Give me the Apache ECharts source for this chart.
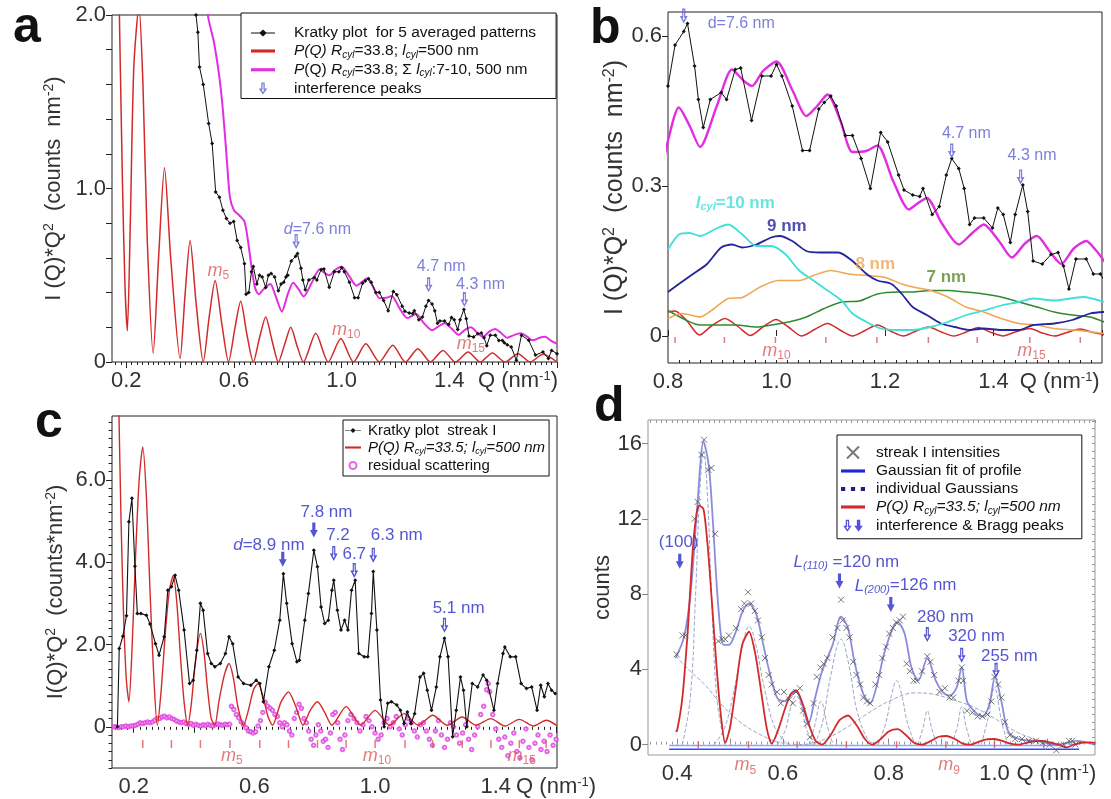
<!DOCTYPE html>
<html>
<head>
<meta charset="utf-8">
<script src="https://cdn.jsdelivr.net/npm/echarts@6/dist/echarts.min.js"></script>
<style>
  html, body { margin: 0; padding: 0; background: #fff; }
  #chart { width: 1111px; height: 799px; }
</style>
</head>
<body>
<div id="chart"></div>
<script>
// ---------- panel a + b: Kratky plot of 5 averaged patterns (Q nm^-1, I*Q^2)
const kratkyAvg = [
  [0.455, 2.3], [0.459, 2.0], [0.466, 1.9], [0.472, 1.7], [0.486, 1.6], [0.506, 1.375], [0.519, 1.26],
  [0.532, 0.98], [0.546, 0.95], [0.559, 0.875], [0.572, 0.827], [0.585, 0.8], [0.599, 0.81], [0.612, 0.7],
  [0.625, 0.66], [0.639, 0.567], [0.645, 0.39], [0.655, 0.4], [0.665, 0.52], [0.672, 0.55], [0.685, 0.45],
  [0.695, 0.5], [0.705, 0.49], [0.718, 0.43], [0.728, 0.5], [0.738, 0.51], [0.751, 0.49], [0.765, 0.41],
  [0.775, 0.45], [0.785, 0.46], [0.793, 0.49],
  [0.8, 0.5], [0.813, 0.582], [0.829, 0.609], [0.836, 0.625], [0.849, 0.54], [0.856, 0.473], [0.865, 0.417],
  [0.878, 0.473], [0.898, 0.487], [0.908, 0.473], [0.924, 0.533], [0.934, 0.536], [0.954, 0.431], [0.973, 0.52],
  [0.99, 0.52], [1.0, 0.543], [1.01, 0.52], [1.029, 0.46], [1.048, 0.371], [1.061, 0.371], [1.078, 0.454],
  [1.088, 0.467], [1.1, 0.48], [1.11, 0.46], [1.127, 0.401], [1.14, 0.401], [1.156, 0.355], [1.173, 0.295],
  [1.192, 0.407], [1.205, 0.388], [1.225, 0.322], [1.235, 0.292], [1.251, 0.282], [1.264, 0.279], [1.27, 0.295],
  [1.287, 0.243], [1.3, 0.259], [1.313, 0.322], [1.323, 0.355], [1.336, 0.335], [1.346, 0.295], [1.356, 0.223],
  [1.365, 0.236], [1.382, 0.236], [1.398, 0.216], [1.408, 0.256], [1.418, 0.243], [1.431, 0.187], [1.44, 0.243],
  [1.454, 0.302], [1.463, 0.249], [1.473, 0.15], [1.49, 0.144], [1.506, 0.163], [1.519, 0.167], [1.529, 0.14],
  [1.539, 0.094], [1.552, 0.154], [1.571, 0.154], [1.584, 0.124], [1.597, 0.124], [1.604, 0.111],
  [1.615, 0.1], [1.63, 0.087], [1.649, 0.01], [1.668, 0.154], [1.695, 0.125], [1.72, 0.04], [1.748, 0.058],
  [1.768, 0.02], [1.78, 0.067], [1.8, 0.048]
];
const sumLengths = [
  [0.49, 2.3], [0.503, 2.0], [0.526, 1.84], [0.546, 1.64], [0.559, 1.45], [0.572, 1.2], [0.585, 0.95], [0.6, 0.875],
  [0.619, 0.846], [0.639, 0.81], [0.652, 0.7], [0.665, 0.55], [0.678, 0.43], [0.692, 0.39], [0.71, 0.42],
  [0.735, 0.45], [0.755, 0.38], [0.778, 0.29], [0.8, 0.391], [0.82, 0.457], [0.84, 0.42], [0.859, 0.378],
  [0.89, 0.46], [0.918, 0.533], [0.94, 0.51], [0.955, 0.5], [0.975, 0.53], [1.0, 0.549], [1.03, 0.49],
  [1.055, 0.44], [1.075, 0.46], [1.094, 0.483], [1.118, 0.43], [1.14, 0.368], [1.165, 0.37], [1.186, 0.381],
  [1.215, 0.31], [1.244, 0.253], [1.26, 0.265], [1.277, 0.276], [1.305, 0.225], [1.336, 0.183], [1.36, 0.205],
  [1.382, 0.223], [1.41, 0.19], [1.434, 0.157], [1.458, 0.185], [1.48, 0.2], [1.503, 0.17], [1.525, 0.144],
  [1.548, 0.175], [1.571, 0.19], [1.59, 0.17], [1.615, 0.14], [1.64, 0.155], [1.665, 0.165], [1.69, 0.145],
  [1.71, 0.125], [1.735, 0.14], [1.755, 0.145], [1.78, 0.12], [1.8, 0.105]
];
const cyl500A = [
  [0.17, 2.4], [0.185, 1.1], [0.195, 0.45], [0.204, 0.18], [0.215, 0.8], [0.228, 1.7], [0.247, 2.05], [0.262, 1.6],
  [0.278, 0.7], [0.3, 0.05], [0.32, 0.6], [0.342, 1.12], [0.365, 0.6], [0.4, 0.02], [0.418, 0.38], [0.437, 0.7],
  [0.46, 0.33], [0.486, 0.0], [0.508, 0.26], [0.53, 0.47], [0.555, 0.22], [0.58, 0.0], [0.603, 0.19], [0.625, 0.35],
  [0.648, 0.16], [0.672, 0.0], [0.695, 0.14], [0.718, 0.26], [0.742, 0.12], [0.765, 0.0], [0.788, 0.1], [0.811, 0.2],
  [0.835, 0.09], [0.858, 0.0], [0.904, 0.165], [0.95, 0.0], [0.997, 0.135], [1.044, 0.0], [1.09, 0.105], [1.14, 0.0],
  [1.19, 0.096], [1.237, 0.0], [1.283, 0.077], [1.33, 0.0], [1.376, 0.067], [1.423, 0.0], [1.47, 0.058], [1.515, 0.0],
  [1.56, 0.052], [1.607, 0.0], [1.655, 0.048], [1.7, 0.0], [1.748, 0.044], [1.8, 0.0]
];
// ---------- panel b: contributions of short cylinders
const cyl500B = [
  [0.8, 0.048], [0.813, 0.05], [0.835, 0.03], [0.858, 0.002], [0.88, 0.02], [0.905, 0.035], [0.93, 0.018], [0.952, 0.001],
  [0.975, 0.018], [0.999, 0.033], [1.022, 0.018], [1.046, 0.0], [1.07, 0.013], [1.094, 0.025], [1.117, 0.012], [1.14, 0.0],
  [1.163, 0.011], [1.186, 0.022], [1.21, 0.01], [1.234, 0.0], [1.257, 0.01], [1.28, 0.018], [1.304, 0.008], [1.327, 0.0],
  [1.35, 0.008], [1.372, 0.017], [1.396, 0.007], [1.418, 0.0], [1.44, 0.008], [1.467, 0.015], [1.49, 0.006], [1.513, 0.0],
  [1.535, 0.007], [1.56, 0.014], [1.58, 0.008], [1.604, 0.003]
];
const cyl10 = [
  [0.8, 0.173], [0.82, 0.203], [0.84, 0.206], [0.859, 0.2], [0.891, 0.216], [0.911, 0.223], [0.937, 0.203], [0.963, 0.18],
  [0.99, 0.18], [1.016, 0.164], [1.042, 0.131], [1.068, 0.111], [1.094, 0.091], [1.12, 0.071], [1.14, 0.045],
  [1.166, 0.028], [1.192, 0.015], [1.225, 0.012], [1.25, 0.012], [1.284, 0.018], [1.316, 0.028], [1.35, 0.042],
  [1.382, 0.051], [1.414, 0.061], [1.447, 0.068], [1.473, 0.075], [1.512, 0.071], [1.565, 0.078], [1.604, 0.068]
];
const cyl9 = [
  [0.8, 0.088], [0.82, 0.104], [0.846, 0.124], [0.872, 0.144], [0.898, 0.177], [0.918, 0.183], [0.937, 0.177],
  [0.963, 0.183], [0.99, 0.197], [1.006, 0.2], [1.029, 0.19], [1.055, 0.17], [1.081, 0.167], [1.114, 0.167],
  [1.14, 0.15], [1.166, 0.124], [1.186, 0.111], [1.212, 0.104], [1.231, 0.084], [1.251, 0.058], [1.277, 0.042],
  [1.303, 0.025], [1.329, 0.018], [1.356, 0.012], [1.382, 0.015], [1.414, 0.012], [1.447, 0.012], [1.473, 0.022],
  [1.512, 0.025], [1.545, 0.032], [1.578, 0.045], [1.604, 0.048]
];
const cyl8 = [
  [0.8, 0.035], [0.826, 0.045], [0.859, 0.038], [0.885, 0.055], [0.911, 0.075], [0.937, 0.077], [0.97, 0.098],
  [1.003, 0.111], [1.042, 0.111], [1.068, 0.121], [1.1, 0.131], [1.133, 0.124], [1.166, 0.121], [1.2, 0.117],
  [1.231, 0.104], [1.251, 0.098], [1.284, 0.091], [1.316, 0.078], [1.349, 0.058], [1.382, 0.048], [1.414, 0.035],
  [1.447, 0.025], [1.48, 0.022], [1.512, 0.015], [1.55, 0.012], [1.604, 0.005]
];
const cyl7 = [
  [0.8, 0.051], [0.833, 0.032], [0.859, 0.022], [0.885, 0.022], [0.924, 0.022], [0.963, 0.018], [0.99, 0.022],
  [1.022, 0.028], [1.055, 0.038], [1.088, 0.055], [1.12, 0.068], [1.153, 0.07], [1.186, 0.084], [1.225, 0.088],
  [1.25, 0.088], [1.284, 0.091], [1.316, 0.091], [1.349, 0.088], [1.382, 0.084], [1.414, 0.078], [1.447, 0.068],
  [1.48, 0.058], [1.512, 0.048], [1.545, 0.042], [1.578, 0.038], [1.604, 0.028]
];
const mTicksB = [0.813, 0.904, 0.998, 1.091, 1.185, 1.28, 1.37, 1.467, 1.56];

// ---------- panel c: Kratky plot streak I
const kratkyStreak = [
  [0.146, 0.0], [0.152, 1.9], [0.164, 2.2], [0.176, 2.7], [0.184, 4.98], [0.194, 5.55], [0.204, 3.9], [0.212, 2.75],
  [0.224, 2.75], [0.242, 2.71], [0.254, 2.5], [0.272, 2.02], [0.284, 1.74], [0.301, 2.19], [0.313, 3.32], [0.325, 3.4],
  [0.337, 3.68], [0.349, 3.32], [0.367, 2.35], [0.385, 1.05], [0.397, 1.13], [0.409, 1.86], [0.421, 3.0], [0.43, 2.83],
  [0.445, 1.78], [0.457, 1.54], [0.469, 1.46], [0.487, 1.54], [0.504, 1.78], [0.516, 2.19], [0.528, 2.02], [0.546, 1.21],
  [0.564, 1.05], [0.588, 1.01], [0.606, 1.13], [0.618, 1.05], [0.63, 0.61], [0.648, 1.46], [0.666, 1.86], [0.684, 2.59],
  [0.696, 3.72], [0.707, 3.0], [0.725, 2.02], [0.741, 1.58], [0.749, 1.62], [0.767, 2.59], [0.779, 3.24], [0.797, 4.29],
  [0.809, 3.89], [0.821, 2.91], [0.833, 2.51], [0.845, 2.59], [0.857, 3.32], [0.863, 3.56], [0.875, 2.83], [0.887, 2.35],
  [0.899, 2.59], [0.91, 2.35], [0.922, 3.32], [0.934, 3.56], [0.946, 1.78], [0.964, 1.7], [0.976, 1.7], [0.988, 2.75],
  [0.994, 3.77], [1.006, 2.35], [1.018, 0.65], [1.03, 0.0], [1.042, 0.57], [1.054, 0.61], [1.072, 0.53], [1.084, 0.4],
  [1.096, 0.08], [1.107, 0.36], [1.119, 0.08], [1.131, 0.32], [1.149, 1.21], [1.161, 1.3], [1.173, 0.89], [1.187, 0.4],
  [1.203, 0.97], [1.215, 1.7], [1.23, 2.15], [1.242, 1.7], [1.257, -0.24], [1.269, 0.4], [1.283, 1.21], [1.293, 0.89],
  [1.304, 0.0], [1.322, 1.05], [1.34, 0.97], [1.358, 1.26], [1.37, 1.13], [1.394, 0.4], [1.406, 1.05], [1.424, 1.78],
  [1.43, 1.94], [1.448, 1.7], [1.466, 1.7], [1.484, 1.05], [1.502, 0.93], [1.519, 0.97], [1.537, 0.4], [1.549, 1.01],
  [1.561, 0.73], [1.573, 1.05], [1.585, 0.89], [1.597, 0.81]
];
const cyl500C = [
  [0.15, 8.0], [0.158, 5.0], [0.166, 2.8], [0.175, 1.2], [0.184, 0.61], [0.195, 2.0], [0.206, 4.13], [0.218, 6.0],
  [0.23, 6.8], [0.242, 5.6], [0.254, 3.3], [0.266, 1.3], [0.278, 0.04], [0.29, 0.8], [0.305, 2.3], [0.318, 3.3],
  [0.331, 3.68], [0.343, 3.0], [0.355, 1.7], [0.367, 0.6], [0.379, 0.04], [0.39, 0.5], [0.405, 1.6], [0.421, 2.27],
  [0.433, 1.8], [0.445, 0.89], [0.457, 0.2], [0.469, 0.04], [0.482, 0.6], [0.5, 1.25], [0.516, 1.54], [0.53, 1.2],
  [0.545, 0.5], [0.564, 0.04], [0.58, 0.4], [0.597, 0.9], [0.612, 1.05], [0.628, 0.75], [0.645, 0.25], [0.66, 0.04],
  [0.688, 0.6], [0.713, 0.85], [0.737, 0.5], [0.761, 0.04], [0.785, 0.4], [0.809, 0.61], [0.833, 0.35], [0.857, 0.04],
  [0.904, 0.49], [0.952, 0.04], [1.0, 0.4], [1.048, 0.04], [1.096, 0.32], [1.143, 0.04], [1.191, 0.28], [1.239, 0.04],
  [1.289, 0.24], [1.334, 0.04], [1.384, 0.2], [1.43, 0.02], [1.478, 0.18], [1.525, 0.02], [1.567, 0.16], [1.603, 0.03]
];
const residual = [
  [0.135, 0.0], [0.142, 0.0], [0.15, -0.02], [0.158, 0.0], [0.166, 0.0], [0.174, 0.02], [0.182, 0.0], [0.19, 0.02],
  [0.198, 0.02], [0.206, 0.04], [0.214, 0.06], [0.222, 0.1], [0.23, 0.08], [0.238, 0.1], [0.246, 0.12], [0.254, 0.1],
  [0.262, 0.12], [0.27, 0.16], [0.278, 0.2], [0.286, 0.2], [0.294, 0.24], [0.302, 0.26], [0.31, 0.22], [0.318, 0.24],
  [0.326, 0.2], [0.334, 0.18], [0.342, 0.14], [0.35, 0.12], [0.358, 0.1], [0.366, 0.12], [0.374, 0.08], [0.382, 0.06],
  [0.39, 0.08], [0.398, 0.04], [0.406, 0.06], [0.414, 0.04], [0.422, 0.02], [0.43, 0.05], [0.438, 0.03], [0.446, 0.06],
  [0.454, 0.04], [0.462, 0.02], [0.47, 0.05], [0.478, 0.07], [0.486, 0.05], [0.494, 0.04], [0.502, 0.06], [0.51, 0.05],
  [0.518, 0.06], [0.524, 0.5], [0.532, 0.42], [0.54, 0.3], [0.548, 0.22], [0.556, 0.12], [0.564, 0.05], [0.572, -0.02],
  [0.58, -0.1], [0.588, -0.12], [0.596, -0.15], [0.604, -0.12], [0.612, 0.02], [0.62, 0.15], [0.628, 0.35], [0.636, 0.6],
  [0.644, 0.5], [0.652, 0.45], [0.66, 0.4], [0.668, 0.3], [0.676, 0.25], [0.684, 0.1], [0.692, 0.0], [0.7, 0.1],
  [0.708, 0.05], [0.716, -0.1], [0.724, -0.2], [0.732, 0.2], [0.74, 0.35], [0.748, 0.55], [0.756, 0.45], [0.764, 0.2],
  [0.772, 0.1], [0.78, -0.1], [0.788, -0.3], [0.796, -0.45], [0.804, -0.2], [0.812, 0.05], [0.82, -0.1], [0.828, -0.35],
  [0.836, -0.3], [0.844, -0.5], [0.852, -0.15], [0.86, 0.3], [0.868, 0.35], [0.876, 0.1], [0.884, -0.3], [0.892, -0.55],
  [0.9, -0.2], [0.91, 0.15], [0.92, 0.3], [0.93, 0.2], [0.94, 0.1], [0.95, -0.1], [0.96, 0.05], [0.97, 0.25], [0.98, 0.15],
  [0.99, 0.0], [1.0, -0.15], [1.01, -0.3], [1.02, -0.2], [1.03, 0.1], [1.04, 0.2], [1.05, 0.0], [1.06, 0.1], [1.07, 0.25],
  [1.08, -0.05], [1.09, -0.2], [1.1, 0.05], [1.11, 0.2], [1.12, 0.1], [1.13, -0.1], [1.14, -0.25], [1.15, 0.05],
  [1.16, 0.1], [1.17, -0.1], [1.18, -0.3], [1.19, -0.45], [1.2, -0.1], [1.21, 0.15], [1.22, -0.2], [1.23, -0.5],
  [1.24, -0.3], [1.25, 0.1], [1.26, 0.0], [1.27, -0.2], [1.28, -0.4], [1.29, -0.15], [1.3, 0.05], [1.31, -0.3],
  [1.32, -0.55], [1.33, -0.2], [1.34, 0.0], [1.35, 0.3], [1.36, 0.5], [1.37, 0.9], [1.375, 1.05], [1.38, 0.85],
  [1.39, 0.3], [1.4, -0.05], [1.41, -0.3], [1.42, -0.5], [1.43, -0.25], [1.44, -0.7], [1.45, -0.4], [1.46, -0.15],
  [1.47, -0.6], [1.48, -0.75], [1.49, -0.35], [1.5, -0.05], [1.51, -0.5], [1.52, -0.8], [1.53, -0.4], [1.54, -0.2],
  [1.55, -0.55], [1.56, -0.35], [1.57, -0.6], [1.58, -0.2], [1.59, -0.45], [1.6, -0.3]
];
const mTicksC = [0.23, 0.325, 0.421, 0.519, 0.618, 0.713, 0.809, 0.904, 1.0, 1.099, 1.191, 1.289, 1.384, 1.478, 1.567];

// ---------- panel d: streak I intensities and Gaussian decomposition
const streakCounts = [
  [0.399, 4.8], [0.41, 5.8], [0.416, 5.8], [0.433, 12.0], [0.439, 12.9], [0.446, 15.4], [0.451, 16.2], [0.459, 14.6],
  [0.465, 14.7], [0.472, 11.2], [0.478, 5.5], [0.485, 5.6], [0.491, 5.6], [0.498, 5.8], [0.511, 6.2], [0.521, 7.2],
  [0.527, 7.5], [0.534, 8.1], [0.54, 7.5], [0.547, 7.1], [0.553, 6.6], [0.56, 5.7], [0.566, 4.6], [0.573, 3.7],
  [0.579, 3.2], [0.589, 2.8], [0.596, 2.2], [0.602, 2.8], [0.612, 2.4], [0.619, 2.2], [0.625, 2.8], [0.632, 3.0],
  [0.638, 1.8], [0.645, 1.1], [0.651, 0.4], [0.658, 2.2], [0.664, 3.6], [0.671, 4.1], [0.677, 4.3], [0.684, 4.6],
  [0.694, 5.7], [0.703, 6.2], [0.71, 7.7], [0.713, 6.6], [0.72, 6.2], [0.726, 5.7], [0.733, 4.4], [0.739, 3.7],
  [0.746, 3.2], [0.752, 2.5], [0.759, 2.3], [0.765, 2.2], [0.775, 3.2], [0.782, 3.7], [0.788, 4.6], [0.795, 5.2],
  [0.801, 5.9], [0.808, 6.2], [0.814, 6.5], [0.821, 6.6], [0.827, 6.8], [0.834, 4.3], [0.84, 3.9], [0.847, 3.4],
  [0.853, 3.4], [0.863, 3.9], [0.873, 4.7], [0.879, 4.4], [0.886, 3.7], [0.896, 2.8], [0.906, 3.0], [0.915, 2.5],
  [0.922, 2.5], [0.932, 3.4], [0.938, 4.1], [0.941, 3.4], [0.948, 1.8], [0.958, 1.7], [0.968, 1.5], [0.977, 1.5],
  [0.987, 1.6], [0.994, 2.3], [1.0, 3.6], [1.007, 3.2], [1.013, 2.5], [1.02, 1.2], [1.029, 0.5], [1.039, 0.3],
  [1.052, 0.3], [1.065, 0.2], [1.078, 0.2], [1.091, 0.1], [1.104, 0.0], [1.117, -0.3], [1.131, 0.0], [1.141, 0.2],
  [1.147, 0.2], [1.153, 0.0]
];
const gaussFit = [
  [0.397, 4.6], [0.413, 5.7], [0.426, 8.2], [0.439, 13.0], [0.45, 16.1], [0.46, 14.8], [0.468, 11.7], [0.478, 7.3],
  [0.488, 5.3], [0.498, 5.3], [0.511, 6.0], [0.524, 7.1], [0.536, 7.5], [0.55, 6.9], [0.563, 5.3], [0.576, 3.7],
  [0.589, 2.5], [0.602, 2.3], [0.615, 2.6], [0.625, 2.8], [0.638, 2.0], [0.648, 1.1], [0.661, 2.5], [0.674, 3.9],
  [0.694, 5.3], [0.71, 6.8], [0.723, 6.2], [0.736, 4.3], [0.752, 2.7], [0.765, 2.2], [0.778, 3.2], [0.791, 4.8],
  [0.808, 6.2], [0.817, 6.5], [0.83, 5.9], [0.843, 4.1], [0.856, 3.4], [0.873, 4.6], [0.889, 3.4], [0.902, 2.8],
  [0.915, 2.6], [0.928, 3.0], [0.938, 4.1], [0.948, 2.3], [0.961, 1.8], [0.977, 1.5], [0.99, 2.1], [1.001, 3.6],
  [1.013, 2.3], [1.026, 0.7], [1.046, 0.3], [1.078, 0.2], [1.117, 0.0], [1.156, 0.2], [1.19, 0.0]
];
const gaussParts = [
  [[0.398, 4.7], [0.425, 3.9], [0.452, 3.2], [0.485, 2.1], [0.517, 1.25], [0.556, 0.55], [0.596, 0.1], [0.64, 0.0], [0.7, -0.05]],
  [[0.41, 0], [0.425, 2.5], [0.435, 8], [0.443, 13.5], [0.45, 15.6], [0.457, 13.5], [0.465, 8], [0.475, 2.5], [0.49, 0]],
  [[0.47, 0], [0.49, 0.9], [0.51, 3.2], [0.525, 5.4], [0.536, 6.3], [0.548, 5.4], [0.565, 3.0], [0.585, 0.9], [0.61, 0]],
  [[0.59, 0], [0.605, 0.8], [0.615, 2.0], [0.625, 2.6], [0.635, 2.0], [0.645, 0.8], [0.66, 0]],
  [[0.65, 0], [0.66, 1.0], [0.672, 2.3], [0.684, 1.0], [0.695, 0]],
  [[0.66, 0], [0.675, 1.2], [0.69, 3.6], [0.71, 5.6], [0.725, 4.2], [0.74, 1.8], [0.76, 0.3], [0.775, 0]],
  [[0.78, 0], [0.795, 1.2], [0.805, 2.6], [0.815, 3.4], [0.825, 2.6], [0.835, 1.2], [0.85, 0]],
  [[0.64, 0], [0.68, 0.3], [0.72, 0.9], [0.76, 1.65], [0.8, 2.3], [0.85, 2.75], [0.88, 2.7], [0.92, 2.4], [0.96, 2.0],
   [1.0, 1.4], [1.03, 0.85], [1.07, 0.35], [1.11, 0.1], [1.15, 0]],
  [[0.855, 0], [0.865, 0.9], [0.873, 1.8], [0.881, 0.9], [0.891, 0]],
  [[0.92, 0], [0.93, 1.0], [0.938, 2.0], [0.946, 1.0], [0.956, 0]],
  [[0.975, 0], [0.987, 1.3], [1.0, 3.0], [1.013, 1.3], [1.025, 0]]
];
const cyl500D = [
  [0.397, 0.7], [0.4, 0.75], [0.41, 2.5], [0.42, 6.0], [0.43, 10.5], [0.437, 12.3], [0.442, 12.7], [0.45, 12.5],
  [0.458, 10.5], [0.466, 7.5], [0.475, 4.0], [0.483, 1.5], [0.491, 0.1], [0.5, 0.9], [0.511, 3.0], [0.523, 5.3],
  [0.536, 6.0], [0.548, 4.8], [0.56, 2.6], [0.57, 0.8], [0.579, 0.05], [0.59, 0.7], [0.605, 2.0], [0.615, 2.7],
  [0.625, 2.9], [0.637, 2.2], [0.65, 1.0], [0.662, 0.2], [0.674, 0.0], [0.69, 0.5], [0.707, 1.3], [0.723, 1.55],
  [0.74, 1.0], [0.755, 0.3], [0.769, 0.0], [0.785, 0.3], [0.8, 0.7], [0.817, 0.82], [0.833, 0.5], [0.848, 0.1],
  [0.863, 0.0], [0.88, 0.2], [0.895, 0.42], [0.909, 0.46], [0.925, 0.3], [0.94, 0.05], [0.954, 0.0], [0.97, 0.15],
  [0.985, 0.28], [1.0, 0.3], [1.015, 0.2], [1.03, 0.05], [1.046, 0.0], [1.06, 0.1], [1.075, 0.18], [1.091, 0.2],
  [1.105, 0.12], [1.12, 0.0], [1.137, -0.15], [1.15, 0.0], [1.165, 0.1], [1.183, 0.12], [1.19, 0.1]
];
const baselineD = [[[0.385, -0.05], [1.12, -0.05]], [[0.385, -0.25], [1.16, -0.25]]];
const mTicksD = [0.44, 0.535, 0.627, 0.72, 0.815, 0.908, 1.0, 1.093];

// ---------- annotations [Q, value, text]
const notesA = [[0.91, 0.765, '{i|d}=7.6 nm'], [1.37, 0.548, '4.7 nm'], [1.516, 0.446, '4.3 nm']];
const arrowsA = [[0.831, 0.695], [1.323, 0.445], [1.456, 0.36]];
const mLabelsA = [[0.542, 0.52, '5'], [1.017, 0.18, '10'], [1.48, 0.1, '15']];
const notesB = [[0.935, 0.625, 'd=7.6 nm'], [1.35, 0.404, '4.7 nm'], [1.471, 0.361, '4.3 nm']];
const arrowsB = [[0.829, 0.64], [1.323, 0.37], [1.45, 0.318]];
const mLabelsB = [[1.0, -0.031, '10'], [1.47, -0.031, '15']];
const notesC = [[0.648, 4.41, '{i|d}=8.9 nm'], [0.839, 5.22, '7.8 nm'], [0.877, 4.66, '7.2'], [0.931, 4.2, '6.7'],
                [1.072, 4.66, '6.3 nm'], [1.277, 2.87, '5.1 nm']];
const hollowC = [[0.863, 4.21], [0.931, 3.8], [0.994, 4.17], [1.23, 2.47]];
const solidC = [[0.694, 4.07], [0.797, 4.78]];
const mLabelsC = [[0.525, -0.73, '5'], [1.006, -0.73, '10'], [1.486, -0.73, '15']];
const notesD = [[0.403, 10.76, '(100)'], [0.72, 9.7, '{i|L}{sub|(110)} =120 nm'], [0.832, 8.44, '{i|L}{sub|(200)}=126 nm'],
                [0.907, 6.76, '280 nm'], [0.966, 5.78, '320 nm'], [1.028, 4.71, '255 nm']];
const solidD = [[0.405, 9.75], [0.707, 8.7], [0.804, 7.45]];
const hollowD = [[0.873, 5.85], [0.938, 4.75], [1.003, 3.95]];
const mLabelsD = [[0.529, -1.15, '5'], [0.914, -1.15, '9']];

// ---------- styling helpers
const FONT = 'Liberation Sans, Arial, Helvetica, sans-serif';
const TXT = '#333';
const HOLLOW = 'path://M3,0L7,0L7,7L10,7L5,14L0,7L3,7Z M4.5,1.5L4.5,8.6L3.3,8.6L5,11.3L6.7,8.6L5.5,8.6L5.5,1.5Z';
const SOLID = 'path://M3,0L7,0L7,7L10,7L5,14L0,7L3,7Z';
const BOTH = 'path://M3,0L7,0L7,7L10,7L5,14L0,7L3,7Z M4.5,1.5L4.5,8.6L3.3,8.6L5,11.3L6.7,8.6L5.5,8.6L5.5,1.5Z M16,0L20,0L20,7L23,7L18,14L13,7L16,7Z';
const CROSS = 'path://M0,0L10,10M10,0L0,10';
const BAR = 'path://M0,0H20V2.6H0Z';
const DOTS = 'path://M0,0H3V3H0Z M7,0H10V3H7Z M14,0H17V3H14Z';
const DOTLINE = 'path://M0,4.6H24V5.6H0Z M12,1.5L15.8,5.1L12,8.7L8.2,5.1Z';

function steps(a, b, s) {
  const out = [];
  for (let v = a; v <= b + 1e-9; v += s) out.push(Math.round(v * 1000) / 1000);
  return out;
}
function num(v) { return Math.abs(v) < 1e-9 ? '0' : v.toFixed(1); }
function richFor(size, color, weight) {
  return {
    i: { fontStyle: 'italic', fontSize: size, color: color, fontFamily: FONT, fontWeight: weight },
    sub: { fontStyle: 'italic', fontSize: Math.round(size * 0.62), color: color, fontFamily: FONT, fontWeight: weight,
           verticalAlign: 'bottom', lineHeight: size + 2 },
    sup: { fontSize: Math.round(size * 0.62), color: color, fontFamily: FONT, verticalAlign: 'top', lineHeight: size + 2 }
  };
}

function xMain(grid, min, max, tickVals, labelVals, qAt, inside, color, fmt) {
  return {
    type: 'value', gridIndex: grid, min: min, max: max, position: 'bottom',
    axisLine: { show: false }, splitLine: { show: false },
    axisTick: { show: true, customValues: tickVals, inside: inside, length: 6, lineStyle: { color: color } },
    axisLabel: {
      customValues: labelVals.concat([qAt]), margin: 8, fontFamily: FONT, fontSize: 22, color: TXT,
      formatter: function (v) { return Math.abs(v - qAt) < 1e-6 ? 'Q (nm{sup|-1})' : fmt(v); },
      rich: { sup: { fontSize: 13, verticalAlign: 'top', fontFamily: FONT, color: TXT, lineHeight: 18 } }
    }
  };
}
function tickOnly(grid, min, max, tickVals, len, inside, color, position) {
  return {
    type: 'value', gridIndex: grid, min: min, max: max, position: position,
    axisLine: { show: false }, splitLine: { show: false }, axisLabel: { show: false },
    axisTick: { show: true, customValues: tickVals, inside: inside, length: len, lineStyle: { color: color } }
  };
}
function yMain(grid, min, max, tickVals, labelVals, name, gap, nameSize, fmt, color) {
  return {
    type: 'value', gridIndex: grid, min: min, max: max, position: 'left',
    axisLine: { show: false }, splitLine: { show: false },
    axisTick: { show: true, customValues: tickVals, inside: false, length: 6, lineStyle: { color: color } },
    axisLabel: { customValues: labelVals, margin: 6, fontFamily: FONT, fontSize: 22, color: TXT, formatter: fmt },
    name: name, nameLocation: 'middle', nameGap: gap, nameRotate: 90,
    nameTextStyle: { fontFamily: FONT, fontSize: nameSize, color: TXT, rich: richFor(nameSize, TXT) }
  };
}

function lineS(name, xi, yi, data, color, width, extra) {
  return Object.assign({
    name: name, type: 'line', xAxisIndex: xi, yAxisIndex: yi, data: data, showSymbol: false, symbol: 'none',
    lineStyle: { color: color, width: width }, itemStyle: { color: color }, emphasis: { disabled: true },
    silent: true, clip: true, z: 3
  }, extra || {});
}
function arrowS(name, xi, yi, data, path, color, w, h) {
  return {
    name: name, type: 'scatter', xAxisIndex: xi, yAxisIndex: yi, data: data, symbol: path, symbolSize: [w, h],
    symbolKeepAspect: true, itemStyle: { color: color }, emphasis: { disabled: true }, silent: true, clip: false, z: 8
  };
}
function textS(xi, yi, data, color, size, weight) {
  return {
    type: 'scatter', xAxisIndex: xi, yAxisIndex: yi, data: data, symbolSize: 1,
    itemStyle: { color: 'rgba(0,0,0,0)' }, emphasis: { disabled: true }, silent: true, clip: false, z: 9,
    label: {
      show: true, position: 'inside', color: color, fontSize: size, fontFamily: FONT, fontWeight: weight || 'normal',
      formatter: function (p) { return p.data[2]; }, rich: richFor(size, color, weight || 'normal')
    }
  };
}
function mLabelS(xi, yi, data, color) {
  return {
    type: 'scatter', xAxisIndex: xi, yAxisIndex: yi, data: data, symbolSize: 1,
    itemStyle: { color: 'rgba(0,0,0,0)' }, emphasis: { disabled: true }, silent: true, clip: false, z: 9,
    label: {
      show: true, position: 'inside', formatter: function (p) { return '{m|m}{s|' + p.data[2] + '}'; },
      rich: {
        m: { fontStyle: 'italic', fontSize: 18, color: color, fontFamily: FONT, lineHeight: 20, verticalAlign: 'top' },
        s: { fontSize: 12, color: color, fontFamily: FONT, lineHeight: 20, verticalAlign: 'bottom' }
      }
    }
  };
}
function tickMarks(xi, yi, qs, v, color, h) {
  return {
    type: 'scatter', xAxisIndex: xi, yAxisIndex: yi, data: qs.map(function (q) { return [q, v]; }),
    symbol: 'rect', symbolSize: [1.5, h], itemStyle: { color: color }, emphasis: { disabled: true }, silent: true, z: 4
  };
}
function legendBox(left, top, items, labels, size, gap, pad, iw, ih, textPad) {
  return {
    left: left, top: top, orient: 'vertical', data: items, selectedMode: false,
    backgroundColor: '#fff', borderColor: '#111', borderWidth: 1, borderRadius: 0,
    padding: pad, itemGap: gap, itemWidth: iw, itemHeight: ih,
    textStyle: { fontFamily: FONT, fontSize: size, color: '#111', padding: [0, 0, 0, textPad], rich: richFor(size, '#111') },
    formatter: function (n) { return labels[n]; }
  };
}

const RED = '#d22a2a', MAG = '#e22ee0', BLK = '#111', SLATE = '#5c5cd2', BLUE = '#2b2bc8', MRED = '#d85a5a';
const aX = [0.147, 1.8], bX = [0.8, 1.6], cX = [0.128, 1.603], dX = [0.345, 1.19];

const option = {
  animation: false,
  backgroundColor: '#fff',
  grid: [
    { left: 112, top: 15, width: 445, height: 347, show: true, borderColor: '#222', borderWidth: 1 },
    { left: 668, top: 12, width: 434, height: 351, show: true, borderColor: '#222', borderWidth: 1 },
    { left: 112, top: 416, width: 445, height: 352, show: true, borderColor: '#222', borderWidth: 1 },
    { left: 648, top: 420, width: 447, height: 335, show: true, borderColor: '#999', borderWidth: 1 }
  ],
  xAxis: [
    xMain(0, aX[0], aX[1], steps(0.2, 1.8, 0.2), [0.2, 0.6, 1.0, 1.4], 1.655, false, '#222', num),
    tickOnly(0, aX[0], aX[1], steps(0.16, 1.8, 0.02), 3, false, '#222', 'bottom'),
    xMain(1, bX[0], bX[1], steps(0.8, 1.6, 0.2), [0.8, 1.0, 1.2, 1.4], 1.522, true, '#222', num),
    tickOnly(1, bX[0], bX[1], steps(0.82, 1.58, 0.02), 3, true, '#222', 'bottom'),
    xMain(2, cX[0], cX[1], steps(0.2, 1.6, 0.2), [0.2, 0.6, 1.0, 1.4], 1.6, false, '#222', num),
    tickOnly(2, cX[0], cX[1], steps(0.14, 1.6, 0.02), 3, false, '#222', 'bottom'),
    xMain(3, dX[0], dX[1], steps(0.4, 1.1, 0.1), [0.4, 0.6, 0.8, 1.0], 1.117, true, '#888', num),
    tickOnly(3, dX[0], dX[1], steps(0.35, 1.19, 0.01), 3, true, '#999', 'bottom'),
    tickOnly(3, dX[0], dX[1], steps(0.35, 1.19, 0.01), 3, true, '#999', 'top')
  ],
  yAxis: [
    yMain(0, 0, 2.0, steps(0, 2, 0.2), [0, 1, 2], 'I (Q)*Q{sup|2}  (counts  nm{sup|-2})', 46, 22, num, '#222'),
    yMain(1, -0.054, 0.648, [0, 0.3, 0.6], [0, 0.3, 0.6], 'I (Q)*Q{sup|2}  (counts  nm{sup|-2})', 38, 25, num, '#222'),
    yMain(2, -1, 7.55, [0, 2, 4, 6], [0, 2, 4, 6], 'I(Q)*Q{sup|2}  (counts*nm{sup|-2})', 44, 22, num, '#222'),
    tickOnly(2, -1, 7.55, steps(-1, 7.4, 0.2), 3.5, false, '#222', 'left'),
    yMain(3, -0.55, 17.25, [0, 4, 8, 12, 16], [0, 4, 8, 12, 16], 'counts', 16, 22,
          function (v) { return String(v); }, '#888'),
    tickOnly(3, -0.55, 17.25, steps(0, 17.2, 0.4), 3, true, '#999', 'right')
  ],
  legend: [
    legendBox(241, 13, [
      { name: 'aKratky', icon: DOTLINE }, { name: 'aRed', icon: BAR }, { name: 'aMag', icon: BAR }, 'aArrow'
    ], {
      aKratky: 'Kratky plot  for 5 averaged patterns',
      aRed: '{i|P(Q) R}{sub|cyl}=33.8; {i|l}{sub|cyl}=500 nm',
      aMag: '{i|P}(Q) {i|R}{sub|cyl}=33.8; Σ {i|l}{sub|cyl}:7-10, 500 nm',
      aArrow: 'interference peaks'
    }, 15.5, 2, [12, 20, 2, 10], 24, 12, 14),
    legendBox(343, 420, [
      { name: 'cKratky', icon: DOTLINE }, { name: 'cRed', icon: BAR }, { name: 'cResid', icon: 'emptyCircle' }
    ], {
      cKratky: 'Kratky plot  streak I',
      cRed: '{i|P(Q) R}{sub|cyl}{i|=33.5; l}{sub|cyl}{i|=500 nm}',
      cResid: 'residual scattering'
    }, 15, 2, [3, 4, 3, 2], 16, 7, 2),
    legendBox(837, 435, [
      'dPts',
      { name: 'dFit', icon: BAR, itemStyle: { color: '#2424d0' } },
      { name: 'dGauss', icon: DOTS, itemStyle: { color: '#22227a' } },
      { name: 'dRed', icon: BAR },
      { name: 'dArrow', icon: BOTH }
    ], {
      dPts: 'streak I intensities',
      dFit: 'Gaussian fit of profile',
      dGauss: 'individual Gaussians',
      dRed: '{i|P(Q) R}{sub|cyl}{i|=33.5; l}{sub|cyl}{i|=500 nm}',
      dArrow: 'interference & Bragg peaks'
    }, 15.5, 2, [9, 18, 5, 4], 24, 12, 6)
  ],
  graphic: [
    { type: 'text', left: 13, top: 3, style: { text: 'a', font: 'bold 50px ' + FONT, fill: '#111' } },
    { type: 'text', left: 590, top: 4, style: { text: 'b', font: 'bold 50px ' + FONT, fill: '#111' } },
    { type: 'text', left: 35, top: 398, style: { text: 'c', font: 'bold 50px ' + FONT, fill: '#111' } },
    { type: 'text', left: 594, top: 382, style: { text: 'd', font: 'bold 50px ' + FONT, fill: '#111' } }
  ],
  series: [
    // ---- a
    lineS('aRed', 0, 0, cyl500A, RED, 1.5, { smooth: 0.25 }),
    lineS('aMag', 0, 0, sumLengths, MAG, 2, { smooth: 0.25 }),
    lineS('aKratky', 0, 0, kratkyAvg, BLK, 1, { showSymbol: true, symbol: 'diamond', symbolSize: 4, z: 5 }),
    arrowS('aArrow', 0, 0, arrowsA, HOLLOW, SLATE, 11, 15),
    textS(0, 0, notesA, SLATE, 16),
    mLabelS(0, 0, mLabelsA, MRED),
    // ---- b
    lineS('bRed', 2, 1, cyl500B, RED, 1.5, { smooth: 0.25 }),
    lineS('b7', 2, 1, cyl7, '#2f8a2f', 1.5, { smooth: 0.25 }),
    lineS('b8', 2, 1, cyl8, '#f0a552', 1.5, { smooth: 0.25 }),
    lineS('b9', 2, 1, cyl9, '#24249c', 1.8, { smooth: 0.25 }),
    lineS('b10', 2, 1, cyl10, '#3ee0d8', 1.8, { smooth: 0.25 }),
    lineS('bMag', 2, 1, sumLengths, MAG, 2.4, { smooth: 0.25 }),
    lineS('bKratky', 2, 1, kratkyAvg, BLK, 1, { showSymbol: true, symbol: 'diamond', symbolSize: 4, z: 5 }),
    arrowS('bArrow', 2, 1, arrowsB, HOLLOW, SLATE, 11, 15),
    textS(2, 1, notesB, SLATE, 16),
    textS(2, 1, [[0.924, 0.266, '{i|l}{sub|cyl}=10 nm']], '#3ee0d8', 17, 'bold'),
    textS(2, 1, [[1.019, 0.22, '9 nm']], '#24249c', 17, 'bold'),
    textS(2, 1, [[1.182, 0.144, '8 nm']], '#f0a552', 17, 'bold'),
    textS(2, 1, [[1.313, 0.117, '7 nm']], '#5a8a2a', 17, 'bold'),
    tickMarks(2, 1, mTicksB, -0.008, MRED, 6),
    mLabelS(2, 1, mLabelsB, MRED),
    // ---- c
    {
      name: 'cResid', type: 'scatter', xAxisIndex: 4, yAxisIndex: 2, data: residual, symbol: 'emptyCircle',
      symbolSize: 3.5, itemStyle: { color: '#e040e0', borderWidth: 1.3 }, emphasis: { disabled: true }, silent: true, z: 2
    },
    lineS('cRed', 4, 2, cyl500C, RED, 1.4, { smooth: 0.25 }),
    lineS('cKratky', 4, 2, kratkyStreak, BLK, 1.1, { showSymbol: true, symbol: 'diamond', symbolSize: 4, z: 5 }),
    arrowS('cHollow', 4, 2, hollowC, HOLLOW, BLUE, 11, 15),
    arrowS('cSolid', 4, 2, solidC, SOLID, BLUE, 11, 15),
    textS(4, 2, notesC, BLUE, 17),
    tickMarks(4, 2, mTicksC, -0.42, MRED, 8),
    mLabelS(4, 2, mLabelsC, MRED),
    // ---- d
    lineS('dBase1', 6, 4, baselineD[0], '#8aa8ff', 1.5, { z: 2 }),
    lineS('dBase2', 6, 4, baselineD[1], '#2b4cff', 1.5, { z: 2 })
  ].concat(gaussParts.map(function (g) {
    return lineS('dGauss', 6, 4, g, '#9ea4c8', 1, { smooth: 0.4, lineStyle: { color: '#9ea4c8', width: 1, type: [4, 2] }, z: 2 });
  })).concat([
    lineS('dFit', 6, 4, gaussFit, '#7b7bd6', 1.6, { smooth: 0.3, lineStyle: { color: 'rgba(110,110,210,0.8)', width: 1.8 } }),
    lineS('dRed', 6, 4, cyl500D, RED, 1.8, { smooth: 0.25, z: 4 }),
    {
      name: 'dPts', type: 'scatter', xAxisIndex: 6, yAxisIndex: 4, data: streakCounts, symbol: CROSS, symbolSize: 6,
      itemStyle: { color: 'none', borderColor: '#555', borderWidth: 1 }, emphasis: { disabled: true }, silent: true, z: 6
    },
    arrowS('dArrow', 6, 4, hollowD, HOLLOW, BLUE, 11, 15),
    arrowS('dSolid', 6, 4, solidD, SOLID, BLUE, 11, 15),
    textS(6, 4, notesD, BLUE, 17),
    tickMarks(6, 4, mTicksD, 0, MRED, 7),
    mLabelS(6, 4, mLabelsD, MRED)
  ])
};

const chart = echarts.init(document.getElementById('chart'));
chart.setOption(option);
</script>
</body>
</html>
